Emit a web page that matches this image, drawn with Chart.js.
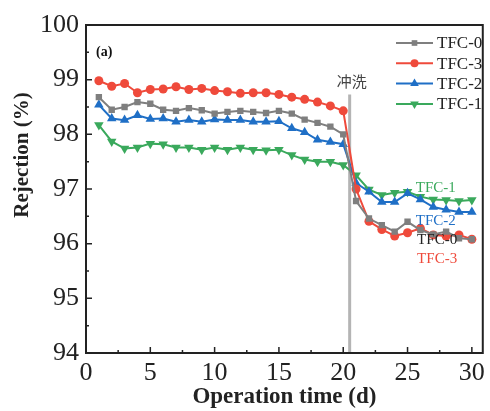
<!DOCTYPE html>
<html>
<head>
<meta charset="utf-8">
<script src="https://cdn.jsdelivr.net/npm/chart.js@4"></script>
<style>
  html, body { margin: 0; padding: 0; background: #fff; }
  #wrap { width: 490px; height: 411px; }
</style>
</head>
<body>
<div id="wrap"><canvas id="chart" width="490" height="411"></canvas></div>
<script>
// operation days
const days = [1, 2, 3, 4, 5, 6, 7, 8, 9, 10, 11, 12, 13, 14, 15, 16, 17, 18, 19, 20, 21, 22, 23, 24, 25, 26, 27, 28, 29, 30];

// rejection (%)
const tfc0 = [98.68, 98.45, 98.50, 98.59, 98.56, 98.45, 98.43, 98.48, 98.44, 98.38, 98.41, 98.43, 98.41, 98.39, 98.43, 98.38, 98.27, 98.21, 98.14, 98.00, 96.78, 96.46, 96.34, 96.22, 96.40, 96.25, 96.17, 96.22, 96.10, 96.08];
const tfc3 = [98.98, 98.88, 98.93, 98.76, 98.82, 98.83, 98.87, 98.82, 98.84, 98.80, 98.78, 98.75, 98.76, 98.76, 98.73, 98.68, 98.64, 98.59, 98.52, 98.43, 97.00, 96.41, 96.26, 96.14, 96.20, 96.28, 96.16, 96.14, 96.16, 96.08];
const tfc2 = [98.54, 98.29, 98.26, 98.35, 98.28, 98.29, 98.23, 98.26, 98.23, 98.27, 98.26, 98.26, 98.23, 98.23, 98.24, 98.11, 98.04, 97.90, 97.86, 97.82, 97.11, 96.95, 96.76, 96.76, 96.92, 96.81, 96.67, 96.62, 96.58, 96.58];
const tfc1 = [98.17, 97.87, 97.74, 97.76, 97.83, 97.82, 97.76, 97.76, 97.72, 97.76, 97.72, 97.76, 97.72, 97.71, 97.72, 97.62, 97.54, 97.50, 97.50, 97.44, 97.25, 96.99, 96.89, 96.93, 96.95, 96.86, 96.81, 96.80, 96.78, 96.80];

const xTicks = [0, 5, 10, 15, 20, 25, 30];
const yTicks = [94, 95, 96, 97, 98, 99, 100];
const flushDay = 20.5;

const serif = "'Liberation Serif', 'DejaVu Serif', serif";

const seriesList = [
    { label: 'TFC-0', values: tfc0, color: '#7f7f7f', style: 'rect', radius: 4.5 },
    { label: 'TFC-3', values: tfc3, color: '#ef4a3b', style: 'circle', radius: 4.5 },
    { label: 'TFC-2', values: tfc2, color: '#1f6fc6', style: 'triangle', radius: 5.5 },
    { label: 'TFC-1', values: tfc1, color: '#3aa95c', style: 'triangle', radius: 5.5, rotation: 180 }
];

// labels placed next to the curves after flushing
const curveLabels = [
    { text: 'TFC-1', x: 27.2, y: 97.01, color: '#3aa95c' },
    { text: 'TFC-2', x: 27.2, y: 96.41, color: '#1f6fc6' },
    { text: 'TFC-0', x: 27.3, y: 96.07, color: '#222222' },
    { text: 'TFC-3', x: 27.3, y: 95.72, color: '#ef4a3b' }
];

const datasets = seriesList.map(s => ({
    label: s.label,
    data: days.map((d, i) => ({ x: d, y: s.values[i] })),
    borderColor: s.color,
    backgroundColor: s.color,
    borderWidth: 2,
    pointStyle: s.style,
    pointRadius: s.radius,
    pointRotation: s.rotation || 0,
    pointBorderWidth: 0,
    tension: 0
}));

// frame, inward ticks, flush line, legend and text labels
const decorPlugin = {
    id: 'decor',
    beforeDatasetsDraw(chart) {
        const { ctx, chartArea: a, scales: { x, y } } = chart;
        ctx.save();
        // flush line
        const fx = x.getPixelForValue(flushDay);
        ctx.strokeStyle = '#b4b4b4';
        ctx.lineWidth = 3;
        ctx.beginPath();
        ctx.moveTo(fx, y.getPixelForValue(98.73));
        ctx.lineTo(fx, a.bottom);
        ctx.stroke();
        ctx.fillStyle = '#444';
        ctx.font = "15px 'Noto Sans CJK SC', sans-serif";
        ctx.textAlign = 'center';
        ctx.textBaseline = 'middle';
        ctx.fillText('冲洗', fx + 2, 81);

        // y axis title
        ctx.save();
        ctx.translate(23, 155);
        ctx.rotate(-Math.PI / 2);
        ctx.fillStyle = '#222';
        ctx.font = 'bold 21px ' + serif;
        ctx.fillText('Rejection (%)', 0, 0);
        ctx.restore();
        ctx.restore();
    },
    afterDatasetsDraw(chart) {
        const { ctx, chartArea: a, scales: { x, y } } = chart;
        ctx.save();
        ctx.strokeStyle = '#222';
        ctx.lineWidth = 2;
        ctx.strokeRect(a.left, a.top, a.right - a.left, a.bottom - a.top);

        ctx.lineWidth = 1.5;
        ctx.beginPath();
        for (let v = 94; v <= 100; v += 0.5) {
            const py = y.getPixelForValue(v);
            const len = Number.isInteger(v) ? 6 : 3;
            ctx.moveTo(a.left, py);
            ctx.lineTo(a.left + len, py);
        }
        for (let v = 0; v <= 30; v += 2.5) {
            const px = x.getPixelForValue(v);
            const len = v % 5 === 0 ? 6 : 3;
            ctx.moveTo(px, a.bottom);
            ctx.lineTo(px, a.bottom - len);
        }
        ctx.stroke();

        // panel tag
        ctx.fillStyle = '#111';
        ctx.font = 'bold 14px ' + serif;
        ctx.textAlign = 'left';
        ctx.textBaseline = 'middle';
        ctx.fillText('(a)', 96, 52);

        // legend
        ctx.font = '17px ' + serif;
        seriesList.forEach((s, i) => {
            const ly = 43 + i * 20.3;
            ctx.strokeStyle = s.color;
            ctx.lineWidth = 2;
            ctx.beginPath();
            ctx.moveTo(396, ly);
            ctx.lineTo(433, ly);
            ctx.stroke();
            ctx.fillStyle = s.color;
            Chart.helpers.drawPoint(ctx, {
                pointStyle: s.style,
                radius: s.radius - 0.5,
                rotation: s.rotation || 0,
                borderWidth: 0
            }, 414.5, ly);
            ctx.fillStyle = '#222';
            ctx.fillText(s.label, 437, ly + 1);
        });

        // curve labels
        ctx.font = '15px ' + serif;
        curveLabels.forEach(l => {
            ctx.fillStyle = l.color;
            ctx.fillText(l.text, x.getPixelForValue(l.x) - 20, y.getPixelForValue(l.y));
        });
        ctx.restore();
    }
};

new Chart(document.getElementById('chart'), {
    type: 'line',
    data: { datasets: datasets },
    options: {
        responsive: false,
        animation: false,
        layout: { padding: { top: 25, right: 2, left: 0, bottom: 0 } },
        plugins: { legend: { display: false }, tooltip: { enabled: false } },
        scales: {
            x: {
                type: 'linear',
                min: 0,
                max: 30.85,
                afterBuildTicks: s => { s.ticks = xTicks.map(v => ({ value: v })); },
                grid: { display: false, drawTicks: false },
                border: { display: false },
                ticks: {
                    color: '#222',
                    font: { family: serif, size: 26 },
                    padding: 5,
                    maxRotation: 0
                },
                title: {
                    display: true,
                    text: 'Operation time (d)',
                    color: '#222',
                    font: { family: serif, size: 23, weight: 'bold' },
                    padding: { top: -6, bottom: 0 }
                },
                afterFit: s => { s.height = 58; }
            },
            y: {
                min: 94,
                max: 100,
                afterBuildTicks: s => { s.ticks = yTicks.map(v => ({ value: v })); },
                grid: { display: false, drawTicks: false },
                border: { display: false },
                ticks: {
                    color: '#222',
                    font: { family: serif, size: 26 },
                    padding: 7
                },
                afterFit: s => { s.width = 86; }
            }
        }
    },
    plugins: [decorPlugin]
});
</script>
</body>
</html>
